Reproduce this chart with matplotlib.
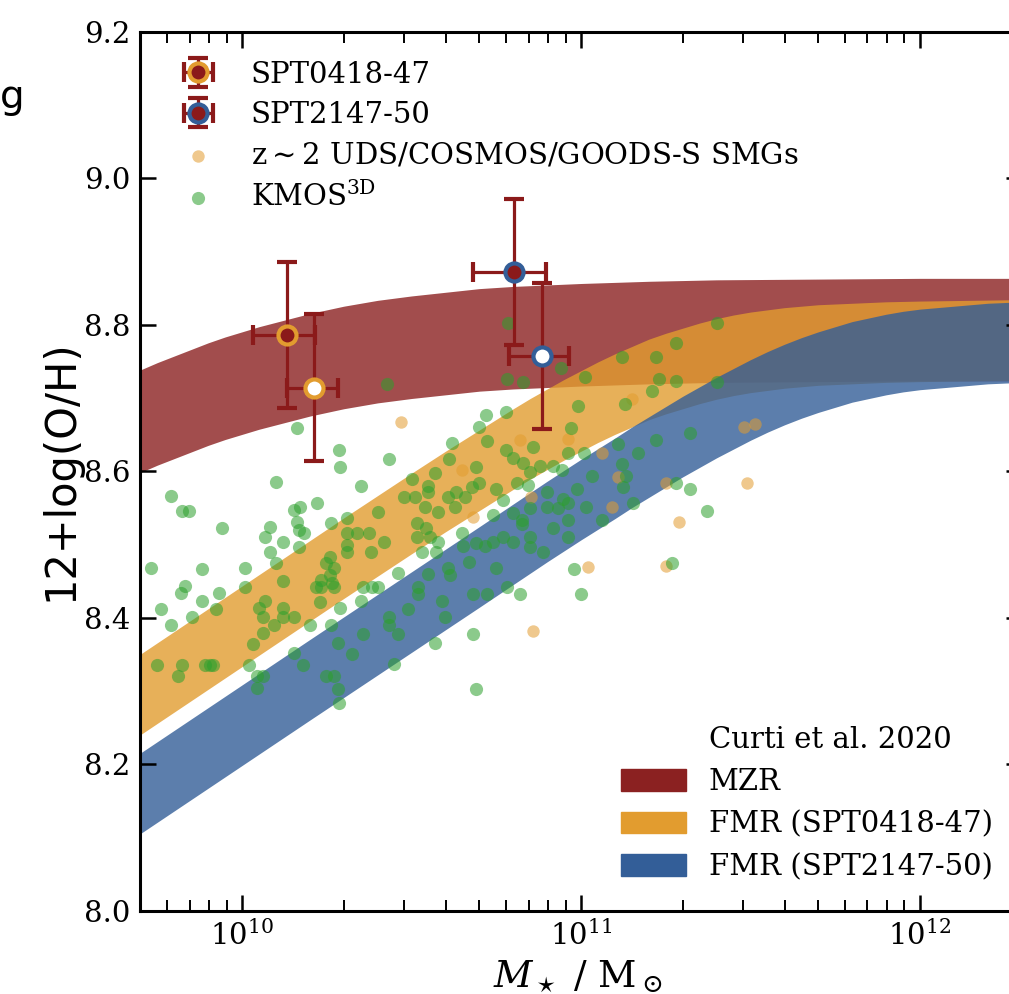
import numpy as np
import matplotlib
matplotlib.use('Agg')
from matplotlib import pyplot as plt
from matplotlib.patches import Patch

plt.rcParams['font.family'] = 'DejaVu Serif'
plt.rcParams['mathtext.fontset'] = 'dejavuserif'

# Curti et al. 2020 relations (centre of each band)
mzr_logm = [9.7, 9.75, 9.8, 9.85, 9.9, 9.95, 10.0, 10.05, 10.1, 10.15, 10.2, 10.25, 10.3, 10.35,
            10.4, 10.45, 10.5, 10.6, 10.7, 10.8, 10.9, 11.0, 11.2, 11.4, 11.7, 12.0, 12.3]
mzr_oh = [8.668, 8.678, 8.687, 8.696, 8.705, 8.713, 8.720, 8.727, 8.733, 8.739, 8.745, 8.750, 8.755, 8.759,
          8.763, 8.766, 8.769, 8.774, 8.779, 8.782, 8.784, 8.786, 8.789, 8.791, 8.792, 8.793, 8.793]
fmr0418_logm = [9.7, 10.0, 10.3, 10.5, 10.6, 10.7, 10.8, 10.85, 10.9, 10.95, 11.0, 11.05, 11.1, 11.15, 11.2,
                11.25, 11.3, 11.35, 11.4, 11.45, 11.5, 11.55, 11.6, 11.65, 11.7, 11.8, 11.9, 12.0, 12.15, 12.3]
fmr0418_oh = [8.295, 8.388, 8.481, 8.542, 8.572, 8.601, 8.630, 8.644, 8.657, 8.670, 8.682, 8.694, 8.705, 8.715, 8.725,
              8.733, 8.740, 8.747, 8.753, 8.758, 8.762, 8.765, 8.768, 8.770, 8.772, 8.774, 8.776, 8.777, 8.778, 8.779]
fmr2147_logm = [9.7, 10.2, 10.7, 10.9, 11.0, 11.1, 11.15, 11.2, 11.25, 11.3, 11.35, 11.4, 11.45, 11.5,
                11.55, 11.6, 11.65, 11.7, 11.75, 11.8, 11.85, 11.9, 11.95, 12.0, 12.05, 12.1, 12.2, 12.3]
fmr2147_oh = [8.160, 8.315, 8.469, 8.531, 8.561, 8.590, 8.605, 8.619, 8.633, 8.647, 8.660, 8.673, 8.685, 8.697,
              8.708, 8.718, 8.727, 8.735, 8.742, 8.749, 8.754, 8.759, 8.763, 8.766, 8.768, 8.770, 8.774, 8.776]
mzr_scatter = 0.07
fmr_scatter = 0.055

# our two sources (mass in 1e10 Msun)
spt0418_mass = [1.36, 1.635]
spt0418_merr = [0.28, 0.28]
spt0418_oh = [8.786, 8.714]
spt2147_mass = [6.35, 7.66]
spt2147_merr = [1.55, 1.55]
spt2147_oh = [8.872, 8.757]
oh_err = 0.10

# z~2 SMGs
smg_logm = [10.470, 10.649, 10.682, 10.820, 10.962, 11.150, 11.062, 11.109, 11.250, 10.853,
            11.091, 11.021, 10.859, 11.250, 11.289, 11.480, 11.513, 11.489]
smg_oh = [8.667, 8.601, 8.537, 8.642, 8.644, 8.698, 8.625, 8.592, 8.584, 8.565,
          8.551, 8.469, 8.381, 8.470, 8.530, 8.660, 8.664, 8.584]

# KMOS3D
kmos_logm = [10.161, 10.287, 10.290, 10.099, 9.789, 9.822, 9.842, 9.940, 10.152, 10.172,
             10.222, 10.161, 10.081, 10.069, 10.169, 10.184, 10.122, 10.169, 10.081, 10.099,
             10.261, 9.730, 9.881, 10.010, 10.122, 10.010, 9.831, 9.819, 9.931, 9.881,
             10.069, 10.049, 10.063, 10.122, 10.122, 10.152, 10.093, 10.063, 10.031, 9.760,
             9.851, 9.789, 9.922, 10.258, 10.249, 10.272, 10.258, 10.234, 10.219, 10.234,
             10.264, 10.272, 10.231, 10.199, 10.261, 9.748, 9.822, 9.810, 9.890, 9.904,
             9.913, 10.019, 10.043, 10.063, 10.043, 10.152, 10.181, 10.249, 10.272, 10.284,
             10.287, 10.284,
             10.720, 10.779, 10.700, 10.723, 10.620, 10.432, 10.352, 10.611, 10.691, 10.779,
             10.502, 10.570, 10.549, 10.549, 10.479, 10.511, 10.608, 10.632, 10.658, 10.679,
             10.700, 10.750, 10.540, 10.579, 10.629, 10.402, 10.770, 10.311, 10.517, 10.543,
             10.517, 10.555, 10.311, 10.340, 10.373, 10.420, 10.381, 10.311, 10.311, 10.532,
             10.573, 10.579, 10.741, 10.649, 10.652, 10.691, 10.717, 10.741, 10.770, 10.461,
             10.358, 10.384, 10.402, 10.352, 10.290, 10.549, 10.608, 10.614, 10.520, 10.520,
             10.670, 10.750, 10.682, 10.723, 10.782, 10.591, 10.599, 10.490, 10.432, 10.432,
             10.461, 10.358, 10.323, 10.570, 10.682, 10.449, 10.691, 10.429,
             10.785, 10.941, 11.012, 10.782, 10.829, 11.121, 11.221, 11.280, 11.230, 11.280,
             11.209, 11.129, 10.991, 10.970, 10.859, 10.800, 10.829, 10.850, 10.879, 10.918,
             10.944, 10.962, 11.009, 11.109, 11.168, 11.221, 11.121, 11.132, 11.280, 11.032,
             10.988, 11.124, 10.811, 10.844, 10.900, 10.947, 10.962, 11.153, 11.015, 10.850,
             10.900, 10.932, 10.800, 10.826, 10.826, 10.962, 11.062, 10.800, 10.850, 10.850,
             10.888, 10.918, 10.962, 10.979, 10.820, 11.000, 11.400, 11.400, 11.321, 11.321,
             11.371, 11.268]
kmos_oh = [8.659, 8.629, 8.605, 8.585, 8.566, 8.545, 8.545, 8.522, 8.547, 8.551,
           8.556, 8.530, 8.524, 8.510, 8.519, 8.515, 8.503, 8.496, 8.489, 8.474,
           8.529, 8.468, 8.466, 8.468, 8.450, 8.442, 8.443, 8.434, 8.434, 8.423,
           8.423, 8.413, 8.401, 8.413, 8.401, 8.401, 8.390, 8.379, 8.364, 8.412,
           8.401, 8.390, 8.412, 8.483, 8.474, 8.468, 8.458, 8.451, 8.442, 8.442,
           8.447, 8.442, 8.421, 8.390, 8.390, 8.335, 8.335, 8.320, 8.335, 8.335,
           8.335, 8.335, 8.320, 8.320, 8.304, 8.352, 8.335, 8.320, 8.320, 8.302,
           8.283, 8.365,
           8.676, 8.681, 8.660, 8.641, 8.638, 8.616, 8.580, 8.616, 8.605, 8.629,
           8.589, 8.597, 8.580, 8.572, 8.565, 8.565, 8.565, 8.572, 8.565, 8.578,
           8.584, 8.575, 8.551, 8.544, 8.551, 8.544, 8.560, 8.536, 8.529, 8.522,
           8.510, 8.510, 8.515, 8.515, 8.515, 8.503, 8.489, 8.499, 8.489, 8.489,
           8.489, 8.503, 8.540, 8.515, 8.498, 8.502, 8.498, 8.503, 8.510, 8.461,
           8.442, 8.442, 8.442, 8.423, 8.413, 8.459, 8.468, 8.458, 8.442, 8.432,
           8.476, 8.468, 8.432, 8.432, 8.442, 8.423, 8.401, 8.412, 8.401, 8.390,
           8.377, 8.377, 8.350, 8.365, 8.377, 8.337, 8.302, 8.719,
           8.802, 8.741, 8.728, 8.725, 8.721, 8.756, 8.756, 8.775, 8.725, 8.723,
           8.709, 8.691, 8.689, 8.659, 8.633, 8.618, 8.611, 8.599, 8.607, 8.607,
           8.601, 8.625, 8.625, 8.637, 8.625, 8.642, 8.610, 8.593, 8.584, 8.593,
           8.575, 8.578, 8.584, 8.581, 8.572, 8.562, 8.556, 8.556, 8.551, 8.550,
           8.551, 8.550, 8.543, 8.533, 8.528, 8.533, 8.533, 8.503, 8.510, 8.496,
           8.489, 8.522, 8.510, 8.466, 8.432, 8.432, 8.802, 8.721, 8.652, 8.575,
           8.545, 8.474]

red = '#8b2121'
orange = '#e29c2f'
blue = '#335e98'
err_red = '#8b1a1a'
green = '#2ca02c'

fig = plt.figure(figsize=(10.09, 9.94), dpi=100)
ax = fig.add_axes([0.1388, 0.0840, 0.8741, 0.8843])

for lm, oh, sc, c in [(mzr_logm, mzr_oh, mzr_scatter, red),
                      (fmr0418_logm, fmr0418_oh, fmr_scatter, orange),
                      (fmr2147_logm, fmr2147_oh, fmr_scatter, blue)]:
    oh = np.array(oh)
    ax.fill_between(10**np.array(lm), oh - sc, oh + sc, color=c, alpha=0.8, lw=0, zorder=1)

smg = ax.scatter(10**np.array(smg_logm), smg_oh, s=80, color=orange, alpha=0.55, lw=0, zorder=3)
kmos = ax.scatter(10**np.array(kmos_logm), kmos_oh, s=90, color=green, alpha=0.55, lw=0, zorder=3)

handles = []
for mass, merr, oh, edge in [(spt0418_mass, spt0418_merr, spt0418_oh, orange),
                             (spt2147_mass, spt2147_merr, spt2147_oh, blue)]:
    for i, face in enumerate([err_red, 'white']):
        h = ax.errorbar(mass[i] * 1e10, oh[i], xerr=merr[i] * 1e10, yerr=oh_err, fmt='o',
                        ms=13, mfc=face, mec=edge, mew=3, ecolor=err_red, elinewidth=2.3,
                        capsize=7, capthick=2.3, zorder=5)
        if i == 0:
            handles.append(h)

leg1 = ax.legend(handles + [smg, kmos],
                 ['SPT0418-47', 'SPT2147-50', r'z$\sim$2 UDS/COSMOS/GOODS-S SMGs', r'KMOS$^{\rm 3D}$'],
                 loc='upper left', frameon=False, fontsize=21, handlelength=2.0,
                 borderaxespad=0.6, labelspacing=0.42)
ax.add_artist(leg1)

curti = [Patch(alpha=0, label='Curti et al. 2020'),
         Patch(color=red, label='MZR'),
         Patch(color=orange, label='FMR (SPT0418-47)'),
         Patch(color=blue, label='FMR (SPT2147-50)')]
ax.legend(handles=curti, loc='lower right', frameon=False, fontsize=21,
          handlelength=2.2, handleheight=0.75, labelspacing=0.5, borderaxespad=0.6)

ax.set_xscale('log')
ax.set_xlim(5e9, 2e12)
ax.set_ylim(8.0, 9.2)
ax.set_yticks([8.0, 8.2, 8.4, 8.6, 8.8, 9.0, 9.2])
ax.set_yticklabels(['8.0', '8.2', '8.4', '8.6', '8.8', '9.0', '9.2'])
ax.tick_params(which='both', direction='in', top=True, right=True, labelsize=21, pad=7)
ax.tick_params(which='major', length=11.5, width=1.8)
ax.tick_params(which='minor', length=8, width=1.4)
ax.tick_params(axis='y', which='minor', left=False, right=False)
for s in ax.spines.values():
    s.set_linewidth(2.2)

fig.text(60 / 1009, 1 - 470 / 994, '12+log(O/H)', family='DejaVu Sans', fontsize=30,
         rotation=90, ha='center', va='center')
fig.text(578 / 1009, 1 - 987 / 994, r'$M_\star\ /\ \mathrm{M}_\odot$', fontsize=27,
         ha='center', va='baseline')
fig.text(0, 1 - 97 / 994, 'g', family='DejaVu Sans', fontsize=28, ha='left', va='center')

fig.savefig('out.png', dpi=100)
